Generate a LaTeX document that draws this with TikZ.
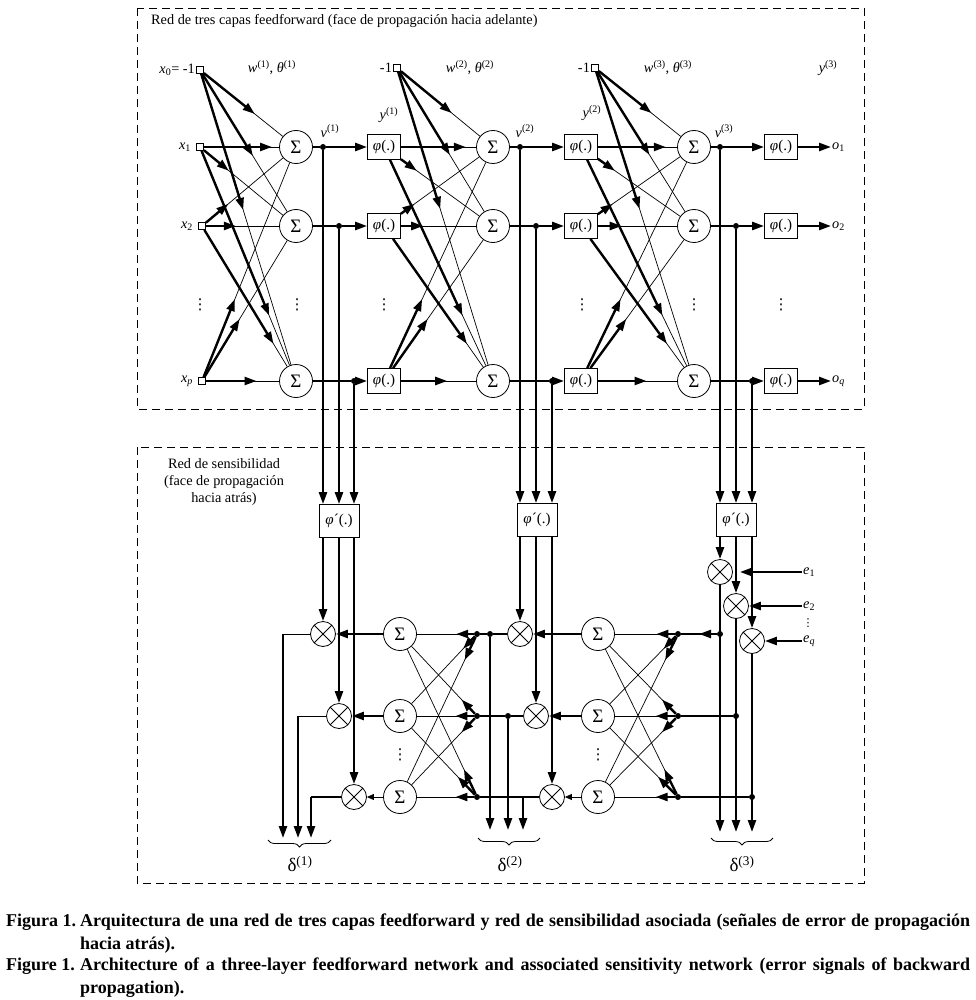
\documentclass[tikz,border=0pt]{standalone}
\usepackage{fontspec}
\setmainfont{Liberation Serif}
\newfontfamily\symfont{DejaVu Sans}
\usetikzlibrary{arrows.meta,calc,decorations.pathreplacing}
\tikzset{
  sig/.style={line width=2.4pt,-{Triangle[length=12pt,width=8pt]}},
  thinline/.style={line width=0.7pt},
  sumnode/.style={circle,draw,line width=0.8pt,minimum size=33pt,inner sep=0pt,font=\fontsize{19}{19}\selectfont},
  mulnode/.style={circle,draw,line width=0.8pt,minimum size=25pt,inner sep=0pt,
    path picture={\draw[line width=0.8pt] (path picture bounding box.north west) -- (path picture bounding box.south east)
      (path picture bounding box.north east) -- (path picture bounding box.south west);}},
  actbox/.style={draw,line width=0.8pt,minimum width=33pt,minimum height=25pt,inner sep=1pt,font=\fontsize{15}{15}\selectfont},
  dactbox/.style={draw,line width=0.8pt,minimum width=40pt,minimum height=33pt,inner sep=1pt,font=\fontsize{15}{15}\selectfont},
  port/.style={draw,line width=0.8pt,minimum size=7pt,inner sep=0pt},
  junction/.style={circle,fill,inner sep=0pt,minimum size=6pt},
  frame/.style={dash pattern=on 8pt off 5pt,line width=0.7pt},
  lbl/.style={font=\fontsize{14.3}{16}\selectfont,inner sep=1pt},
  vdotlbl/.style={font=\symfont\fontsize{15}{15}\selectfont,inner sep=0pt},
  capfont/.style={font=\fontsize{18}{21}\selectfont\bfseries,inner sep=0pt}
}

\begin{document}
\begin{tikzpicture}[x=1pt,y=-1pt]
\useasboundingbox (0,0) rectangle (975,1000);
\draw[frame] (137,8) rectangle (864,409);
\draw[frame] (137,447) rectangle (864,883);
\node[lbl,anchor=west] (ffTitle) at (150,21) {Red de tres capas feedforward (face de propagación hacia adelante)};
\node[lbl,align=center,font=\fontsize{14.3}{17}\selectfont] (bpTitle) at (224,482) {Red de sensibilidad\\(face de propagación\\hacia atrás)};

\node[port] (inA0) at (200,70) {};
\node[port] (inA1) at (200,147) {};
\node[port] (inA2) at (202,226) {};
\node[port] (inA3) at (202,381) {};
\node[port] (inB0) at (397,68) {};
\node[port] (inC0) at (595,68) {};
\node[lbl,anchor=east] (labx0) at (inA0.west) {\textit{x}\textsubscript{0}= -1};
\node[lbl,anchor=east] (labx1) at ($(inA1.west)+(-4,0)$) {\textit{x}\textsubscript{1}};
\node[lbl,anchor=east] (labx2) at ($(inA2.west)+(-4,0)$) {\textit{x}\textsubscript{2}};
\node[lbl,anchor=east] (labxp) at ($(inA3.west)+(-4,0)$) {\textit{x}\textsubscript{\textit{p}}};
\node[lbl,anchor=east] (labB0) at (inB0.west) {-1};
\node[lbl,anchor=east] (labC0) at (inC0.west) {-1};
\node[lbl] (wA) at (272,68) {\textit{w}\textsuperscript{(1)}, \textit{θ}\textsuperscript{(1)}};
\node[lbl] (wB) at (470,68) {\textit{w}\textsuperscript{(2)}, \textit{θ}\textsuperscript{(2)}};
\node[lbl] (wC) at (668,68) {\textit{w}\textsuperscript{(3)}, \textit{θ}\textsuperscript{(3)}};
\node[lbl] (yA) at (389,115) {\textit{y}\textsuperscript{(1)}};
\node[lbl] (yB) at (592,113) {\textit{y}\textsuperscript{(2)}};
\node[lbl] (yC) at (828,68) {\textit{y}\textsuperscript{(3)}};
\node[lbl] (vlA) at (330,131) {\textit{v}\textsuperscript{(1)}};
\node[lbl] (vlB) at (525,131) {\textit{v}\textsuperscript{(2)}};
\node[lbl] (vlC) at (724,131) {\textit{v}\textsuperscript{(3)}};
\foreach \x in {200,297,384,582,694,781}
  \node[vdotlbl] (dotsTop\x) at (\x,305) {⋮};

\foreach \L/\x in {A/296,B/493,C/694}
  \foreach \r/\y in {1/147,2/226,3/381}
    \node[sumnode] (s\L\r) at (\x,\y) {Σ};
\foreach \L/\N/\x in {A/B/384,B/C/581,C/D/781}
  \foreach \r/\y in {1/147,2/226,3/381}
    \node[actbox,alias=in\N\r] (ph\L\r) at (\x,\y) {\textit{φ}(.)};
\foreach \L/\a/\b/\c in {A/323/339/354,B/520/536/552,C/720/736/752} {
  \node[junction] (v\L1) at (\a,147) {};
  \node[junction] (v\L2) at (\b,226) {};
  \node[junction] (v\L3) at (\c,381) {};
}
\foreach \L in {A,B,C} {
  \foreach \i/\j/\f in {0/1/0.57,0/2/0.55,0/3/0.45,1/1/0.75,1/2/0.3,1/3/0.72,
                        2/1/0.28,2/2/0.36,2/3/0.76,3/1/0.35,3/2/0.4,3/3/0.58} {
    \draw[thinline] (in\L\i) -- (s\L\j);
    \draw[sig] (in\L\i) -- ($(in\L\i)!\f!(s\L\j)$);
  }
  \foreach \r in {1,2,3} {
    \draw[line width=2.4pt] (s\L\r) -- (v\L\r);
    \draw[sig] (v\L\r) -- (ph\L\r);
  }
}
\foreach \r/\y/\s in {1/147/1,2/226/2,3/381/\textit{q}} {
  \node[lbl,anchor=west] (o\r) at (831,\y) {\textit{o}\textsubscript{\s}};
  \draw[sig] (phC\r) -- (o\r.west);
}

\node[dactbox] (dA) at (339,521) {\textit{φ}´(.)};
\node[dactbox] (dB) at (537,520) {\textit{φ}´(.)};
\node[dactbox] (dC) at (736,520) {\textit{φ}´(.)};
\node[mulnode] (mA1) at (323,634) {};
\node[mulnode] (mA2) at (339,716) {};
\node[mulnode] (mA3) at (354,797) {};
\node[mulnode] (mB1) at (520,634) {};
\node[mulnode] (mB2) at (536,716) {};
\node[mulnode] (mB3) at (552,797) {};
\node[mulnode] (mC1) at (720,572) {};
\node[mulnode] (mC2) at (736,606) {};
\node[mulnode] (mC3) at (752,641) {};
\foreach \L in {A,B,C}
  \foreach \r in {1,2,3} {
    \draw[sig] (v\L\r) -- (v\L\r |- d\L.north);
    \draw[sig] (v\L\r |- d\L.south) -- (m\L\r);
  }

\foreach \L/\x/\ux in {A/400/477,B/598/678} {
  \foreach \r/\y in {1/634,2/716,3/797} {
    \node[sumnode] (t\L\r) at (\x,\y) {Σ};
    \node[junction] (u\L\r) at (\ux,\y) {};
  }
  \node[vdotlbl] (dotsBot\L) at (\x,755) {⋮};
  \draw[sig] (t\L1) -- (m\L1);
  \draw[sig] (t\L2) -- (m\L2);
  \draw[thinline,-{Triangle[length=7pt,width=6pt]}] (t\L3) -- (m\L3);
  \foreach \j/\i/\f in {1/1/0.27,1/2/0.18,1/3/0.16,2/1/0.2,2/2/0.28,2/3/0.2,3/1/0.17,3/2/0.25,3/3/0.28} {
    \draw[thinline] (u\L\j) -- (t\L\i);
    \draw[sig] (u\L\j) -- ($(u\L\j)!\f!(t\L\i)$);
  }
}

\foreach \r/\x/\y in {1/283/634,2/298/716,3/311/797} {
  \coordinate (cA\r) at (\x,\y);
  \coordinate (eA\r) at (\x,838);
  \draw[sig] (cA\r) -- (eA\r);
}
\draw[thinline] (mA1) -- (cA1);
\draw[thinline] (mA2) -- (cA2);
\draw[line width=1.6pt] (mA3) -- (cA3);

\node[junction] (kB1) at (490,634) {};
\node[junction] (kB2) at (508,716) {};
\coordinate (kB3) at (523,797);
\foreach \r/\x in {1/490,2/508,3/523} {
  \coordinate (eB\r) at (\x,830);
  \draw[line width=2.4pt] (mB\r) -- (kB\r) -- (uA\r);
  \draw[sig] (kB\r) -- (eB\r);
}

\foreach \r/\x/\y in {1/720/634,2/736/716,3/752/797} {
  \node[junction] (kC\r) at (\x,\y) {};
  \coordinate (eC\r) at (\x,832);
  \draw[sig] (mC\r) -- (eC\r);
  \draw[line width=2.4pt] (kC\r) -- (uB\r);
}
\draw[sig] (kC1) -- ($(kC1)!0.5!(uB1)$);

\node[lbl,anchor=west] (e1) at (802,572) {\textit{e}\textsubscript{1}};
\node[lbl,anchor=west] (e2) at (802,606) {\textit{e}\textsubscript{2}};
\node[lbl,anchor=west] (eq) at (802,641) {\textit{e}\textsubscript{\textit{q}}};
\node[vdotlbl,font=\symfont\fontsize{11}{11}\selectfont] (dotsE) at (808,623) {⋮};
\draw[sig,shorten >=7pt] (e1.west) -- (mC1);
\draw[sig] (e2.west) -- (mC2);
\draw[sig] (eq.west) -- (mC3);

\draw[decorate,decoration={brace,mirror,amplitude=7pt},line width=0.8pt] (268,840) -- (331,840);
\draw[decorate,decoration={brace,mirror,amplitude=7pt},line width=0.8pt] (478,838) -- (540,838);
\draw[decorate,decoration={brace,mirror,amplitude=7pt},line width=0.8pt] (711,838) -- (773,838);
\node[font=\fontsize{19}{19}\selectfont] (delA) at (300,864) {δ\textsuperscript{(1)}};
\node[font=\fontsize{19}{19}\selectfont] (delB) at (510,864) {δ\textsuperscript{(2)}};
\node[font=\fontsize{19}{19}\selectfont] (delC) at (742,864) {δ\textsuperscript{(3)}};

\node[capfont,anchor=base west] (figES) at (6,926) {Figura 1.};
\node[capfont,anchor=base west] (capES1) at (80,926) {\makebox[890pt][s]{Arquitectura de una red de tres capas feedforward y red de sensibilidad asociada (señales de error de propagación}};
\node[capfont,anchor=base west] (capES2) at (80,949) {hacia atrás).};
\node[capfont,anchor=base west] (figEN) at (6,970) {Figure 1.};
\node[capfont,anchor=base west] (capEN1) at (80,970) {\makebox[890pt][s]{Architecture of a three-layer feedforward network and associated sensitivity network (error signals of backward}};
\node[capfont,anchor=base west] (capEN2) at (80,993) {propagation).};
\end{tikzpicture}
\end{document}
